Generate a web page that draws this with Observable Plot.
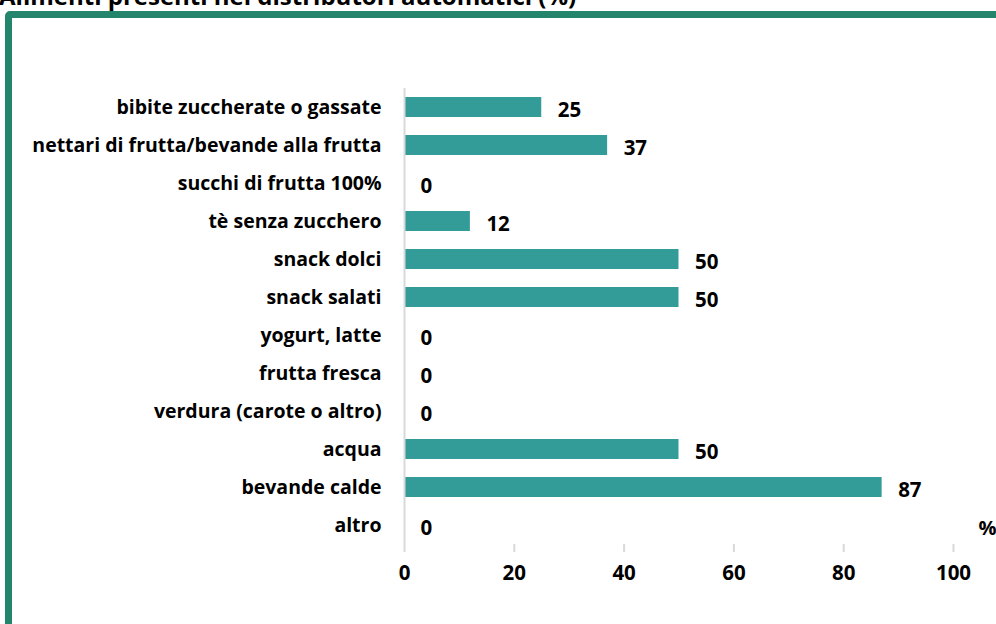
<!DOCTYPE html>
<html>
<head>
<meta charset="utf-8">
<script src="https://cdn.jsdelivr.net/npm/d3@7"></script>
<script src="https://cdn.jsdelivr.net/npm/@observablehq/plot@0.6"></script>
<style>
  html, body { margin: 0; padding: 0; background: #fff; overflow: hidden; }
  #wrap { position: relative; width: 996px; height: 624px; overflow: hidden; font-family: "Open Sans", sans-serif; }
  #title { position: absolute; left: -1px; top: -16px; font-size: 24px; font-weight: 700; color: #000; white-space: nowrap; line-height: 24px; }
  #box { position: absolute; left: 5px; top: 11px; width: 1100px; height: 700px; border: 7px solid #23856b; border-radius: 5px; box-sizing: border-box; }
  #chart { position: absolute; left: 0; top: 0; }
</style>
</head>
<body>
<div id="wrap">
  <div id="title">Alimenti presenti nei distributori automatici (%)</div>
  <div id="box"></div>
  <div id="chart"></div>
</div>
<script>
const categories = [
  "bibite zuccherate o gassate",
  "nettari di frutta/bevande alla frutta",
  "succhi di frutta 100%",
  "tè senza zucchero",
  "snack dolci",
  "snack salati",
  "yogurt, latte",
  "frutta fresca",
  "verdura (carote o altro)",
  "acqua",
  "bevande calde",
  "altro"
];
const values = [25, 37, 0, 12, 50, 50, 0, 0, 0, 50, 87, 0];
const xTicks = [0, 20, 40, 60, 80, 100];
const unitLabel = "%";

const data = categories.map((c, i) => ({category: c, value: values[i]}));

const chart = Plot.plot({
  width: 996,
  height: 624,
  marginLeft: 404,
  marginRight: 43,
  marginTop: 88,
  marginBottom: 80,
  style: {fontFamily: "'Open Sans', sans-serif", fontWeight: 700, fontSize: "19px", color: "#000", background: "transparent", overflow: "visible"},
  x: {domain: [0, 100], ticks: xTicks, label: null},
  y: {domain: categories, paddingInner: 0.47, paddingOuter: 0.235, label: null},
  marks: [
    Plot.barX(data, {x: "value", y: "category", fill: "#339b98"}),
    Plot.ruleX([0], {stroke: "#d9d9d9", strokeWidth: 2}),
    Plot.axisX({ticks: xTicks, tickSize: 8, tickPadding: 13, stroke: "#d9d9d9", strokeWidth: 2, tickFormat: d => String(d), fontSize: 20.5, fontWeight: 700, line: true, label: null}),
    Plot.axisY({tickSize: 0, tickPadding: 23, fontSize: 19.5, fontWeight: 700, label: null}),
    Plot.text(data, {x: "value", y: "category", text: d => String(d.value), dx: 16, dy: 3, textAnchor: "start", fontSize: 20.5, fontWeight: 700, fill: "#000"}),
    Plot.text([unitLabel], {x: () => 100, y: () => categories[categories.length - 1], dx: 25, dy: 3, textAnchor: "start", fontSize: 20, fontWeight: 700, fill: "#000"})
  ]
});
document.getElementById("chart").appendChild(chart);
</script>
</body>
</html>
